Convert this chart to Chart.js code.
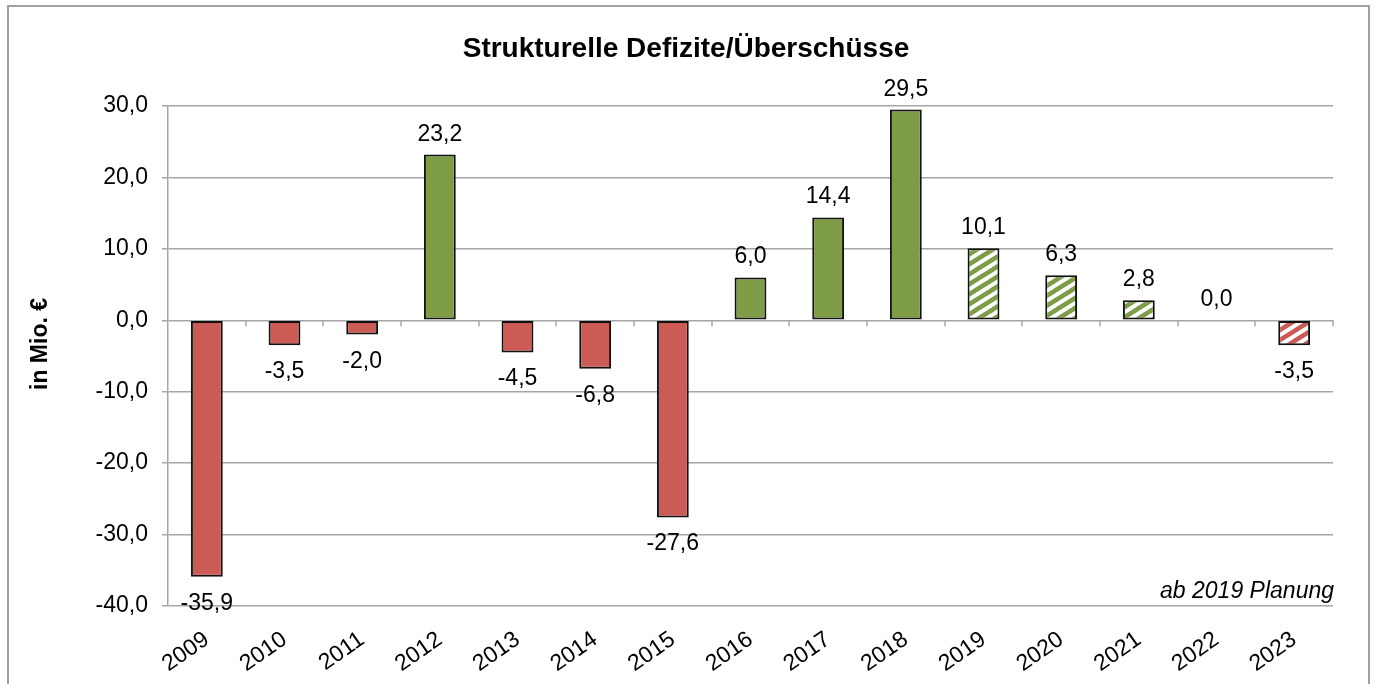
<!DOCTYPE html>
<html>
<head>
<meta charset="utf-8">
<script src="https://cdn.jsdelivr.net/npm/chart.js@4"></script>
<style>
  html, body { margin: 0; padding: 0; background: #fff; }
  canvas { display: block; }
</style>
</head>
<body>
<canvas id="c" width="1375" height="684"></canvas>
<script>
// ---- data ----
const years = ['2009','2010','2011','2012','2013','2014','2015','2016','2017','2018','2019','2020','2021','2022','2023'];
const values = [-35.9, -3.5, -2.0, 23.2, -4.5, -6.8, -27.6, 6.0, 14.4, 29.5, 10.1, 6.3, 2.8, 0.0, -3.5];
const planned = [false,false,false,false,false,false,false,false,false,false,true,true,true,true,true];
const yTicks = [-40, -30, -20, -10, 0, 10, 20, 30];
const chartTitle = 'Strukturelle Defizite/Überschüsse';
const yTitle = 'in Mio. €';
const note = 'ab 2019 Planung';

// ---- styles ----
const GREEN = '#7d9c45';
const RED = '#cc5a55';
const GRID = '#a6a6a6';
const FONT = '"Liberation Sans", Arial, sans-serif';

function hatch(color) {
  const W = 16, H = 10;
  const c = document.createElement('canvas');
  c.width = W; c.height = H;
  const g = c.getContext('2d');
  g.fillStyle = '#fff';
  g.fillRect(0, 0, W, H);
  g.strokeStyle = color;
  g.lineWidth = 4.5;
  g.lineCap = 'square';
  for (const dy of [-H, 0, H]) {
    g.beginPath();
    g.moveTo(-W, H + dy + H);
    g.lineTo(2 * W, dy - H);
    g.stroke();
  }
  return g.createPattern(c, 'repeat');
}
const fmt = v => v.toFixed(1).replace('.', ',');

const ctx = document.getElementById('c').getContext('2d');
const colors = values.map((v, i) => {
  const base = v < 0 ? RED : GREEN;
  return planned[i] ? hatch(base) : base;
});

const decorPlugin = {
  id: 'decor',
  beforeDraw(chart) {
    const c = chart.ctx;
    c.save();
    c.fillStyle = '#fff';
    c.fillRect(0, 0, chart.width, chart.height);
    c.strokeStyle = '#a0a0a0';
    c.lineWidth = 2;
    c.strokeRect(8, 6, 1361, 720);
    c.restore();
  },
  afterDraw(chart) {
    const c = chart.ctx;
    const ca = chart.chartArea;
    const xs = chart.scales.x, ys = chart.scales.y;
    c.save();
    // title
    c.fillStyle = '#000';
    c.font = 'bold 28px ' + FONT;
    c.textAlign = 'center';
    c.textBaseline = 'alphabetic';
    c.fillText(chartTitle, 686, 57);
    // y title
    c.save();
    c.translate(41, (ca.top + ca.bottom) / 2 - 12);
    c.rotate(-Math.PI / 2);
    c.font = 'bold 23px ' + FONT;
    c.textAlign = 'center';
    c.textBaseline = 'middle';
    c.fillText(yTitle, 0, 0);
    c.restore();
    // note
    c.font = 'italic 23px ' + FONT;
    c.textAlign = 'right';
    c.textBaseline = 'alphabetic';
    c.fillText(note, ca.right + 1, ca.bottom - 8);
    // x tick marks on zero line
    const y0 = ys.getPixelForValue(0);
    c.strokeStyle = GRID;
    c.lineWidth = 1.5;
    const half = (xs.getPixelForValue(1) - xs.getPixelForValue(0)) / 2;
    for (let i = 0; i < years.length; i++) {
      const x = Math.round(xs.getPixelForValue(i) + half);
      c.beginPath();
      c.moveTo(x, y0);
      c.lineTo(x, y0 + 6);
      c.stroke();
    }
    c.restore();
  },
  afterDatasetsDraw(chart) {
    const c = chart.ctx;
    const meta = chart.getDatasetMeta(0);
    c.save();
    c.fillStyle = '#000';
    c.font = '23px ' + FONT;
    c.textAlign = 'center';
    c.textBaseline = 'alphabetic';
    meta.data.forEach((bar, i) => {
      const v = values[i];
      if (v >= 0) {
        c.fillText(fmt(v), bar.x, bar.y - 14);
      } else {
        c.fillText(fmt(v), bar.x, bar.y + 33);
      }
    });
    c.restore();
  }
};

new Chart(ctx, {
  type: 'bar',
  data: {
    labels: years,
    datasets: [{
      data: values,
      backgroundColor: colors,
      borderColor: '#111',
      borderWidth: 2,
      borderSkipped: false,
      barPercentage: 0.41,
      categoryPercentage: 1.0
    }]
  },
  options: {
    responsive: false,
    devicePixelRatio: 1,
    animation: false,
    layout: { padding: { left: 0, top: 106, right: 42, bottom: 0 } },
    plugins: { legend: { display: false }, title: { display: false }, tooltip: { enabled: false } },
    scales: {
      x: {
        grid: { display: false },
        border: { display: false },
        ticks: {
          color: '#000',
          font: { family: FONT, size: 23 },
          minRotation: 35,
          maxRotation: 35,
          padding: 12
        },
        afterFit(s) { s.height = 78; }
      },
      y: {
        min: yTicks[0],
        max: yTicks[yTicks.length - 1],
        afterBuildTicks(s) { s.ticks = yTicks.map(v => ({ value: v })); },
        grid: { color: GRID, lineWidth: 1.5, tickLength: 6, drawTicks: true },
        border: { display: true, color: GRID, width: 1.5 },
        ticks: {
          color: '#000',
          font: { family: FONT, size: 23 },
          padding: 14,
          callback: v => fmt(v)
        },
        afterFit(s) { s.width = 168; }
      }
    }
  },
  plugins: [decorPlugin]
});
</script>
</body>
</html>
